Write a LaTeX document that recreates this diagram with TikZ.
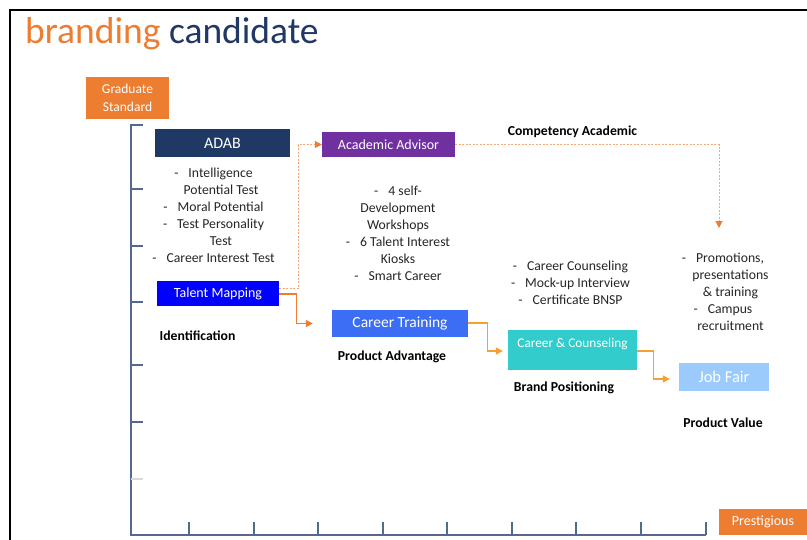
\documentclass[tikz,border=0pt]{standalone}
\usepackage{fontspec}
\setmainfont{Carlito}
\usetikzlibrary{arrows.meta,calc}

\definecolor{brorange}{RGB}{237,125,49}
\definecolor{bramber}{RGB}{247,160,50}
\definecolor{brdots}{RGB}{244,170,120}
\definecolor{brnavy}{RGB}{32,56,100}
\definecolor{brpurple}{RGB}{112,48,160}
\definecolor{brblue}{RGB}{0,0,255}
\definecolor{brroyal}{RGB}{60,110,245}
\definecolor{brteal}{RGB}{51,204,204}
\definecolor{brsky}{RGB}{155,202,252}
\definecolor{braxis}{RGB}{84,104,146}
\definecolor{brtext}{RGB}{38,38,38}

% bulleted line whose centre sits a little left of the plain lines
\newcommand\dashitem[1]{-\hspace{10pt}#1\rule{15pt}{0pt}}
\newcommand\plainitem[1]{-\hspace{10pt}#1}

\begin{document}
\begin{tikzpicture}[x=1pt,y=-1pt,
  box/.style={draw=none,inner sep=0pt,text=white,font=\fontsize{14}{16}\selectfont},
  listtext/.style={align=center,text=brtext,font=\fontsize{13.7}{17}\selectfont},
  tag/.style={text=black,font=\bfseries\fontsize{13.7}{16}\selectfont},
  conn/.style={line width=1.3pt,-{Triangle[length=7pt,width=7pt]}},
  dots/.style={draw=brdots,line width=1pt,dash pattern=on 2pt off 1.5pt,
               -{Triangle[length=7pt,width=7pt,color=brorange,fill=brorange]}},
  axis/.style={draw=braxis,line width=1.6pt},
  tick/.style={draw=braxis,line width=1.3pt}]

\useasboundingbox (0,0) rectangle (807,539);
\fill[white] (0,0) rectangle (807,539);

% slide frame
\draw[line width=2pt,black] (10,541) -- (10,10) -- (809,10);

% title
\node[anchor=base west,inner sep=0pt,font=\fontsize{37.5}{42}\selectfont] (title) at (25,43)
  {\textcolor{brorange}{branding} \textcolor{brnavy}{candidate}};

% axes
\draw[axis] (143,125) -- (131,125) -- (131,535) -- (706,535);
\foreach \yy in {189,246,302,365,422}
  \draw[tick] (131,\yy) -- (143,\yy);
\draw[draw=black!15,line width=1.2pt] (131,479) -- (143,479);
\foreach \xx in {189,254,318,383,447,512,576,641,706}
  \draw[tick] (\xx,535) -- (\xx,522);

% axis labels
\node[box,fill=brorange,minimum width=83pt,minimum height=42pt,align=center,
      font=\fontsize{13.5}{17.5}\selectfont] (gs) at (127.5,98) {Graduate\\Standard};
\node[box,fill=brorange,minimum width=88pt,minimum height=26pt] (pr) at (763,522) {Prestigious};

% stage boxes
\node[box,fill=brnavy,minimum width=135pt,minimum height=28pt,font=\fontsize{16}{18}\selectfont] (adab) at (222.5,143) {ADAB};
\node[box,fill=brblue,minimum width=122pt,minimum height=25pt] (tm) at (218,293.5) {Talent Mapping};
\node[box,fill=brpurple,minimum width=133pt,minimum height=25pt] (aa) at (388.5,144.5) {Academic Advisor};
\node[box,fill=brroyal,minimum width=136pt,minimum height=27pt,font=\fontsize{15.5}{18}\selectfont] (ct) at (400,323.5) {Career Training};
\node[box,fill=brteal,minimum width=129pt,minimum height=40pt,text depth=14pt,font=\fontsize{13.3}{16}\selectfont] (cc) at (572.5,350) {Career \& Counseling};
\node[box,fill=brsky,minimum width=90pt,minimum height=28pt,font=\fontsize{16.5}{19}\selectfont] (jf) at (724,377) {Job Fair};

% item lists
\node[listtext] (adablist) at (221,215.5)
  {\dashitem{Intelligence}\\Potential Test\\\dashitem{Moral Potential}\\\dashitem{Test Personality}\\Test\\\dashitem{Career Interest Test}};
\node[listtext] (aalist) at (398,233)
  {\plainitem{4 self-}\\Development\\Workshops\\\plainitem{6 Talent Interest}\\Kiosks\\\plainitem{Smart Career}};
\node[listtext] (cclist) at (570.5,283)
  {\plainitem{Career Counseling}\\\plainitem{Mock-up Interview}\\\plainitem{Certificate BNSP}};
\node[listtext] (jflist) at (730.5,292)
  {\dashitem{Promotions,}\\presentations\\\& training\\\dashitem{Campus}\\recruitment};

% stage captions
\node[tag] (lid) at (197.5,336) {Identification};
\node[tag] (lpa) at (392,357) {Product Advantage};
\node[tag] (lbp) at (564,388) {Brand Positioning};
\node[tag] (lpv) at (723,423) {Product Value};
\node[tag] (lca) at (572.5,132) {Competency Academic};

% academic track (dotted)
\coordinate (pvtip) at (719,228);
\draw[dots] ($(tm.east)+(0,-5)$) -- ++(19,0) |- (aa.west);
\draw[dots] (aa.east) -| (pvtip);

% main track (solid)
\draw[conn,draw=brorange,shorten >=19pt] ($(tm.east)+(0,0.5)$) -- ++(17,0) |- (ct.west);
\draw[conn,draw=bramber,shorten >=5pt] ($(ct.east)+(0,-0.5)$) -- ++(19,0) |- ($(cc.west)+(0,1)$);
\draw[conn,draw=bramber,shorten >=9pt] ($(cc.east)+(0,1)$) -- ++(16,0) |- ($(jf.west)+(0,2)$);

\end{tikzpicture}
\end{document}
